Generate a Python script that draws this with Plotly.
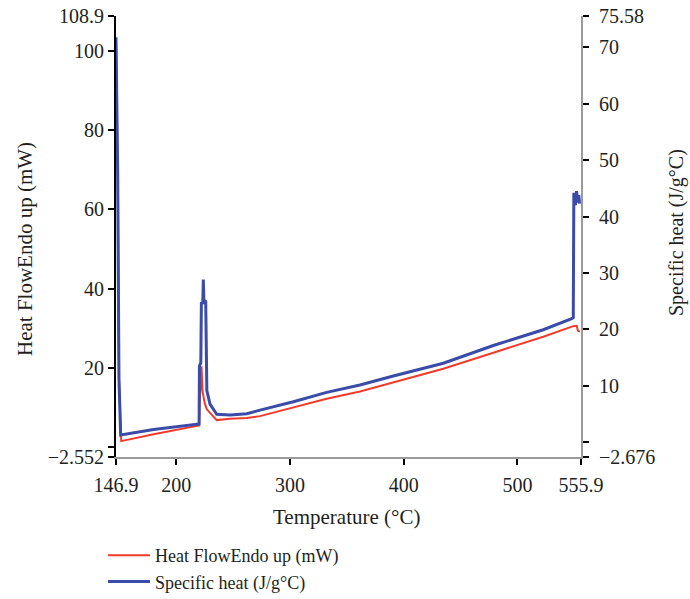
import plotly.graph_objects as go

# Heat flow (left axis, mW)
temp_heat = [146.9, 147.5, 148.4, 149.5, 151.5, 180.0, 220.0, 220.3, 221.0, 221.6, 222.1,
             223.0, 225.0, 226.8, 229.6, 235.5, 247.2, 262.0, 273.6, 302.9, 332.2,
             361.5, 390.8, 434.8, 478.8, 522.7, 549.1, 552.1, 553.3, 555.0]
heat_flow = [103.0, 92.5, 68.5, 17.5, 1.46, 3.2, 5.4, 10.0, 14.5, 20.4, 20.4,
             14.0, 11.0, 9.5, 8.6, 6.77, 7.12, 7.3, 7.78, 9.90, 12.18,
             14.02, 16.37, 19.76, 23.80, 27.84, 30.52, 30.6, 29.3, 29.2]

# Specific heat (right axis, J/g°C)
temp_cp = [146.9, 147.5, 148.4, 149.5, 151.0, 180.0, 220.0, 220.3, 221.5, 222.0, 223.2,
           223.7, 224.2, 225.8, 226.3, 226.8, 229.6, 235.5, 247.2, 262.0, 273.6,
           302.9, 332.2, 361.5, 390.8, 434.8, 478.8, 522.7, 547.7, 549.1, 549.6,
           551.0, 552.0, 553.0, 554.0, 554.6]
specific_heat = [71.8, 64.3, 47.4, 11.2, 1.25, 2.2, 3.2, 13.5, 14.0, 24.8, 24.5,
                 28.8, 24.9, 25.1, 12.0, 9.1, 6.7, 4.9, 4.76, 5.0, 5.65,
                 7.13, 8.79, 10.11, 11.71, 13.96, 17.11, 19.91, 21.87, 22.05, 44.2,
                 42.0, 44.5, 42.5, 43.8, 42.3]

x_ticks = [146.9, 200, 300, 400, 500, 555.9]
x_ticktext = ["146.9", "200", "300", "400", "500", "555.9"]
y1_ticks = [-2.552, 0, 20, 40, 60, 80, 100, 108.9]
y1_ticktext = ["\u22122.552", "", "20", "40", "60", "80", "100", "108.9"]
y2_ticks = [-2.676, 0, 10, 20, 30, 40, 50, 60, 70, 75.58]
y2_ticktext = ["\u22122.676", "", "10", "20", "30", "40", "50", "60", "70", "75.58"]

x_title = "Temperature (\u00b0C)"
y1_title = "Heat FlowEndo up (mW)"
y2_title = "Specific heat (J/g\u00b0C)"

FONT = "Liberation Serif"
TXT = "#231f20"

fig = go.Figure()
fig.add_trace(go.Scatter(x=temp_heat, y=heat_flow, mode="lines",
                         name=y1_title,
                         line=dict(color="#ef3b2c", width=2)))
fig.add_trace(go.Scatter(x=temp_cp, y=specific_heat, mode="lines", yaxis="y2",
                         name=y2_title,
                         line=dict(color="#3a4ba8", width=3)))

axis_common = dict(showgrid=False, zeroline=False, showline=True, linewidth=2,
                   ticks="outside", ticklen=6, tickwidth=2, tickcolor="black",
                   tickfont=dict(size=20), automargin=False)

fig.update_layout(
    width=690, height=599,
    margin=dict(l=116, r=109, t=16, b=142, autoexpand=False),
    paper_bgcolor="white", plot_bgcolor="white",
    font=dict(family=FONT, size=20, color=TXT),
    showlegend=True,
    legend=dict(x=-0.028, y=-0.1814, xanchor="left", yanchor="top",
                font=dict(family=FONT, size=18, color=TXT),
                itemwidth=42, tracegroupgap=0, bgcolor="rgba(0,0,0,0)"),
    xaxis=dict(range=[146.9, 555.9], tickvals=x_ticks, ticktext=x_ticktext,
               linecolor="#9a9a9a", ticklabelstandoff=3, **axis_common),
    yaxis=dict(range=[-2.552, 108.9], tickvals=y1_ticks, ticktext=y1_ticktext,
               linecolor="black", **axis_common),
    yaxis2=dict(range=[-2.676, 75.58], tickvals=y2_ticks, ticktext=y2_ticktext,
                overlaying="y", side="right", linecolor="#9a9a9a",
                ticklabelstandoff=6, **axis_common),
    annotations=[
        dict(text=x_title, xref="paper", yref="paper", x=(346 - 116) / 465,
             y=(457 - 517) / 441, xanchor="center", yanchor="middle",
             showarrow=False, font=dict(size=21, color=TXT)),
        dict(text=y1_title, xref="paper", yref="paper", x=(25 - 116) / 465,
             y=(457 - 249) / 441, xanchor="center", yanchor="middle", textangle=-90,
             showarrow=False, font=dict(size=21, color=TXT)),
        dict(text=y2_title, xref="paper", yref="paper", x=(676 - 116) / 465,
             y=(457 - 233) / 441, xanchor="center", yanchor="middle", textangle=-90,
             showarrow=False, font=dict(size=20, color=TXT)),
    ],
)

fig.write_html("out.html")
